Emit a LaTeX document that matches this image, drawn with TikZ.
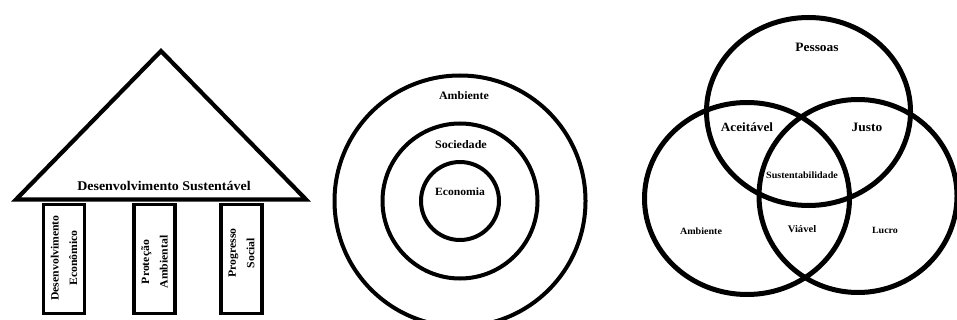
\documentclass[tikz,border=0pt]{standalone}
\usepackage{fontspec}
\setmainfont{Liberation Serif}
\newfontfamily\wideserif[FakeStretch=1.05]{Liberation Serif}
\usetikzlibrary{positioning,shapes.geometric}

\begin{document}
\begin{tikzpicture}[x=1pt, y=-1pt,
  roof/.style={draw=black, line width=4.2pt, line join=miter},
  pillar/.style={draw=black, line width=3.3pt, minimum width=41pt,
                 minimum height=109pt, inner sep=0pt},
  pillartext/.style={rotate=90, align=center, inner sep=0pt,
                     font=\wideserif\bfseries\fontsize{11.2}{18.5}\selectfont},
  ring/.style={draw=black, circle, line width=4pt, inner sep=0pt},
  petal/.style={draw=black, ellipse, line width=5pt, inner sep=0pt,
                minimum width=204pt, minimum height=190pt},
  tag/.style={inner sep=1pt, font=\wideserif\bfseries\fontsize{#1}{#1}\selectfont},
  tag/.default=11
]
  \useasboundingbox (0,0) rectangle (957,320);

  % casa
  \coordinate (apex) at (161,51);
  \coordinate (eaveL) at (16,199.5);
  \coordinate (eaveR) at (306,199.5);
  \draw[roof] (eaveL) -- (apex) -- (eaveR) -- cycle;
  \node[tag=13.3] (ds) at (164,185.5) {Desenvolvimento Sustentável};

  \node[pillar] (pEco) at (64,259) {};
  \node[pillar] (pAmb) at (154.5,259) {};
  \node[pillar] (pSoc) at (241.5,259) {};
  \node[pillartext] (tEco) at ([yshift=1pt]pEco.center) {Desenvolvimento\\Econômico};
  \node[pillartext] (tPro) at ([yshift=-3pt]pAmb.center) {Proteção\\Ambiental};
  \node[pillartext] (tPrg) at ([yshift=6pt]pSoc.center) {Progresso\\Social};

  % circulos
  \node[ring, minimum size=251pt] (outer) at (460,201) {};
  \node[ring, minimum size=155pt] (middle) at (460,201) {};
  \node[ring, minimum size=78pt] (inner) at (460,201) {};
  \node[tag=11.4] (lAmb) at (464,96) {Ambiente};
  \node[tag=11.5] (lSoc) at (461,145) {Sociedade};
  \node[tag=11.1] (lEco) at (460,192) {Economia};

  % venn
  \node[petal, minimum width=204pt, minimum height=188pt] (vPes) at (808.5,111.5) {};
  \node[petal, minimum width=205pt, minimum height=192pt] (vAmb) at (747,198.5) {};
  \node[petal, minimum width=198pt, minimum height=193pt] (vLuc) at (858,196) {};

  \node[tag=12.8] (tPes) at (817,47) {Pessoas};
  \node[tag=12.6] (tAce) at (747,127) {Aceitável};
  \node[tag=12.8] (tJus) at (867,127) {Justo};
  \node[tag=9.6] (tSus) at (802,175) {Sustentabilidade};
  \node[tag=9.6] (tAmb) at (701,231) {Ambiente};
  \node[tag=10.1] (tVia) at (802,229) {Viável};
  \node[tag=9.5] (tLuc) at (885,230) {Lucro};
\end{tikzpicture}
\end{document}
